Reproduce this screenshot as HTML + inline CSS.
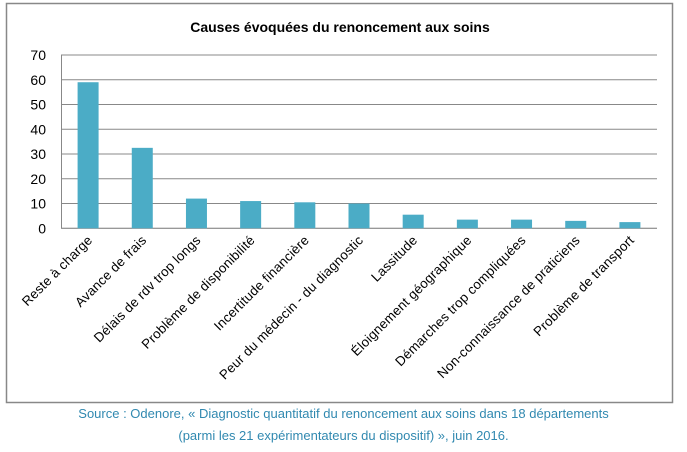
<!DOCTYPE html>
<html><head><meta charset="utf-8"><style>
body{margin:0;background:#fff;width:687px;height:452px;overflow:hidden;font-family:"Liberation Sans",sans-serif}
.src{position:absolute;left:0;width:687px;text-align:center;color:#3189b0;font-size:13px;line-height:22px;top:403px}
</style></head><body>
<svg width="687" height="452" style="position:absolute;left:0;top:0">
<rect x="6.5" y="3.5" width="666" height="399" fill="#fff" stroke="#888" stroke-width="1.5"/>
<text x="340" y="32" text-anchor="middle" font-size="14" font-weight="bold" fill="#000">Causes évoquées du renoncement aux soins</text>
<g id="grid"></g><g id="bars"></g><g id="labels"></g>
</svg>
<div class="src">Source : Odenore, « Diagnostic quantitatif du renoncement aux soins dans 18 départements<br>(parmi les 21 expérimentateurs du dispositif) », juin 2016.</div>
<script>
const categories=["Reste à charge","Avance de frais","Délais de rdv trop longs","Problème de disponibilité","Incertitude financière","Peur du médecin - du diagnostic","Lassitude","Éloignement géographique","Démarches trop compliquées","Non-connaissance de praticiens","Problème de transport"];
const values=[59,32.5,12,11,10.5,10,5.5,3.5,3.5,3,2.5];
const ticks=[0,10,20,30,40,50,60,70];
const X0=61,X1=657,Y0=228.3,Y1=55,MAX=70;
const y=v=>Y0-(v/MAX)*(Y0-Y1);
const bw=(X1-X0)/categories.length;
const xc=i=>X0+bw*(i+0.5);
const NS="http://www.w3.org/2000/svg";
const grid=document.getElementById('grid'),bars=document.getElementById('bars'),labels=document.getElementById('labels');
ticks.forEach(t=>{
 const l=document.createElementNS(NS,'line');
 
 
 l.setAttribute('x1',X0);l.setAttribute('x2',X1);l.setAttribute('y1',y(t));l.setAttribute('y2',y(t));
 l.setAttribute('stroke',t===0?'#777':'#888');l.setAttribute('stroke-width','1');
 grid.appendChild(l);
 const tx=document.createElementNS(NS,'text');
 
 
 tx.setAttribute('x',46);tx.setAttribute('y',y(t)+5);tx.setAttribute('text-anchor','end');tx.setAttribute('font-size','14');
 tx.textContent=t;grid.appendChild(tx);
});
const ax=document.createElementNS(NS,'line');


ax.setAttribute('x1',X0+0.5);ax.setAttribute('x2',X0+0.5);ax.setAttribute('y1',Y1);ax.setAttribute('y2',Y0);ax.setAttribute('stroke','#888');
grid.appendChild(ax);
values.forEach((v,i)=>{
 const r=document.createElementNS(NS,'rect');
 
 
 const w=21;
 r.setAttribute('x',xc(i)-w/2);r.setAttribute('width',w);r.setAttribute('y',y(v));r.setAttribute('height',Y0-y(v));
 r.setAttribute('fill','#4bacc6');
 bars.appendChild(r);
 const t=document.createElementNS(NS,'text');
 
 
 const cx=xc(i)+5,cy=241;
 t.setAttribute('x',cx);t.setAttribute('y',cy);t.setAttribute('text-anchor','end');t.setAttribute('font-size','13.3');
 t.setAttribute('letter-spacing','0.2');
 t.setAttribute('transform','rotate(-45 '+cx+' '+cy+')');
 t.textContent=categories[i];labels.appendChild(t);
});
</script>
</body></html>
